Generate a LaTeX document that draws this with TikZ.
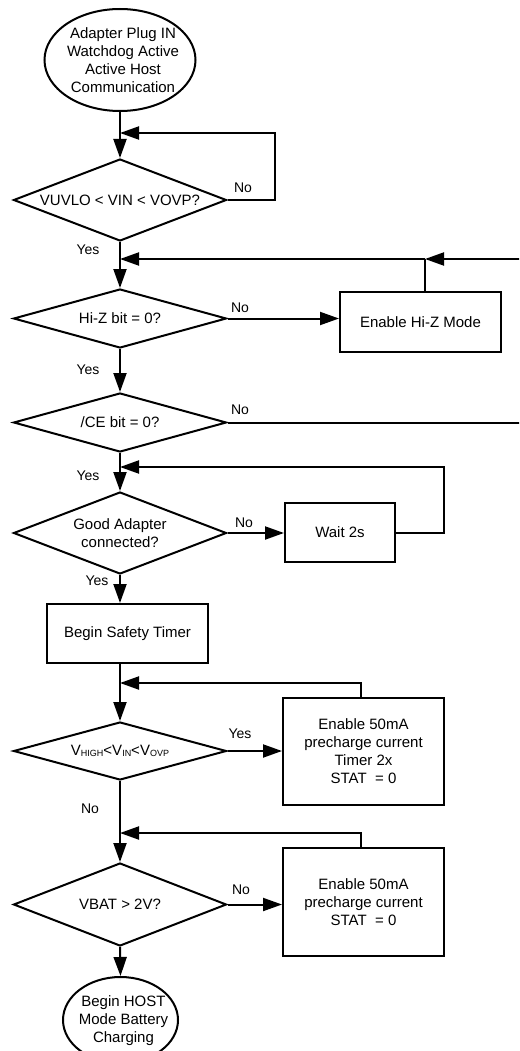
\documentclass[tikz,border=0pt]{standalone}
\usepackage{fontspec}
\setmainfont{Liberation Sans}
\usetikzlibrary{shapes.geometric,arrows.meta}
\newcommand\lowsub[1]{\raisebox{-1.5pt}{\fontsize{9}{9}\selectfont #1}}
\begin{document}
\begin{tikzpicture}[x=1pt,y=-1pt,
  txt/.style={font=\fontsize{15}{18}\selectfont, align=center, inner sep=0pt},
  lbl/.style={font=\fontsize{14}{16}\selectfont, inner sep=0pt},
  box/.style={draw, rectangle, line width=2pt, inner sep=0pt, txt},
  dia/.style={draw, diamond, aspect=3, line width=2pt, inner sep=0pt, minimum width=213pt, txt},
  term/.style={draw, ellipse, line width=2pt, inner sep=0pt},
  flow/.style={line width=2pt, -{Triangle[length=19pt,width=13pt]}},
  plain/.style={line width=2pt}
]
\useasboundingbox (0,0) rectangle (519,1051);
\clip (0,0) rectangle (519,1051);

% terminals
\node[term, minimum width=151pt, minimum height=102pt] (start) at (120,60) {};
\node[txt] (startt) at (123,60.5) {Adapter Plug IN\\Watchdog Active\\Active Host\\Communication};
\node[term, minimum width=115pt, minimum height=86pt] (end) at (120.5,1020) {};
\node[txt] (endt) at (123.5,1021) {Begin HOST\\Mode Battery\\Charging};

% decisions
\node[dia, minimum height=82pt] (d1) at (120,200) {VUVLO < VIN < VOVP?};
\node[dia, minimum height=59pt] (d2) at (120,318.5) {Hi-Z bit = 0?};
\node[dia, minimum height=59pt] (d3) at (120,422.5) {/CE bit = 0?};
\node[dia, minimum height=82pt] (d4) at (120,533) {Good Adapter\\connected?};
\node[dia, minimum height=58pt] (d5) at (120,751) {V\lowsub{HIGH}<V\lowsub{IN}<V\lowsub{OVP}};
\node[dia, minimum height=83pt] (d6) at (120,904.5) {VBAT > 2V?};

% process boxes
\node[box, minimum width=161pt, minimum height=60pt] (hiz) at (420.5,322) {Enable Hi-Z Mode};
\node[box, minimum width=110pt, minimum height=59pt] (wait) at (340,532.5) {Wait 2s};
\node[box, minimum width=161pt, minimum height=59pt] (safety) at (127.5,633.5) {Begin Safety Timer};
\node[box, minimum width=161pt, minimum height=107pt] (pre1) at (363.5,751.5) {Enable 50mA\\precharge current\\Timer 2x\\STAT\ \ = 0};
\node[box, minimum width=161pt, minimum height=108pt] (pre2) at (363.5,902) {Enable 50mA\\precharge current\\STAT\ \ = 0};

% helper coordinates
\coordinate (j1) at (120,133);
\coordinate (c1a) at (275,200);
\coordinate (c1b) at (275,133);
\coordinate (j2) at (120,259);
\coordinate (j2b) at (425,259);
\coordinate (in2) at (520,259);
\coordinate (out3) at (520,422.5);
\coordinate (j4) at (120,467);
\coordinate (c4a) at (444,532.5);
\coordinate (c4b) at (444,467);
\coordinate (j5) at (120,683);
\coordinate (c5) at (361,683);
\coordinate (j6) at (120,833);
\coordinate (c6) at (361,833);

% main flow
\draw[flow] (start.south) -- (d1.north);
\draw[flow] (d1.east) -- (c1a) -- (c1b) -- (j1);
\draw[flow] (d1.south) -- (d2.north);
\draw[flow] (in2) -- (j2b);
\draw[flow] (j2b) -- (j2);
\draw[plain] (j2b |- hiz.north) -- (j2b);
\draw[flow] (d2.east) -- (d2.east -| hiz.west);
\draw[flow] (d2.south) -- (d3.north);
\draw[plain] (d3.east) -- (out3);
\draw[flow] (d3.south) -- (d4.north);
\draw[flow] (d4.east) -- (d4.east -| wait.west);
\draw[flow] (wait.east) -- (c4a) -- (c4b) -- (j4);
\draw[flow] (d4.south) -- (d4.south |- safety.north);
\draw[flow] (d4.south |- safety.south) -- (d5.north);
\draw[flow] (c5 |- pre1.north) -- (c5) -- (j5);
\draw[flow] (d5.east) -- (d5.east -| pre1.west);
\draw[flow] (d5.south) -- (d6.north);
\draw[flow] (c6 |- pre2.north) -- (c6) -- (j6);
\draw[flow] (d6.east) -- (d6.east -| pre2.west);
\draw[flow] (d6.south) -- (end.north);

% labels
\node[lbl] (n1) at (243,188) {No};
\node[lbl] (y1) at (88,250) {Yes};
\node[lbl] (n2) at (240,308) {No};
\node[lbl] (y2) at (88,370) {Yes};
\node[lbl] (n3) at (240,410) {No};
\node[lbl] (y3) at (88,476) {Yes};
\node[lbl] (n4) at (244,523) {No};
\node[lbl] (y4) at (97,581) {Yes};
\node[lbl] (y5) at (240,734) {Yes};
\node[lbl] (n5) at (90,809) {No};
\node[lbl] (n6) at (241,890) {No};
\end{tikzpicture}
\end{document}
